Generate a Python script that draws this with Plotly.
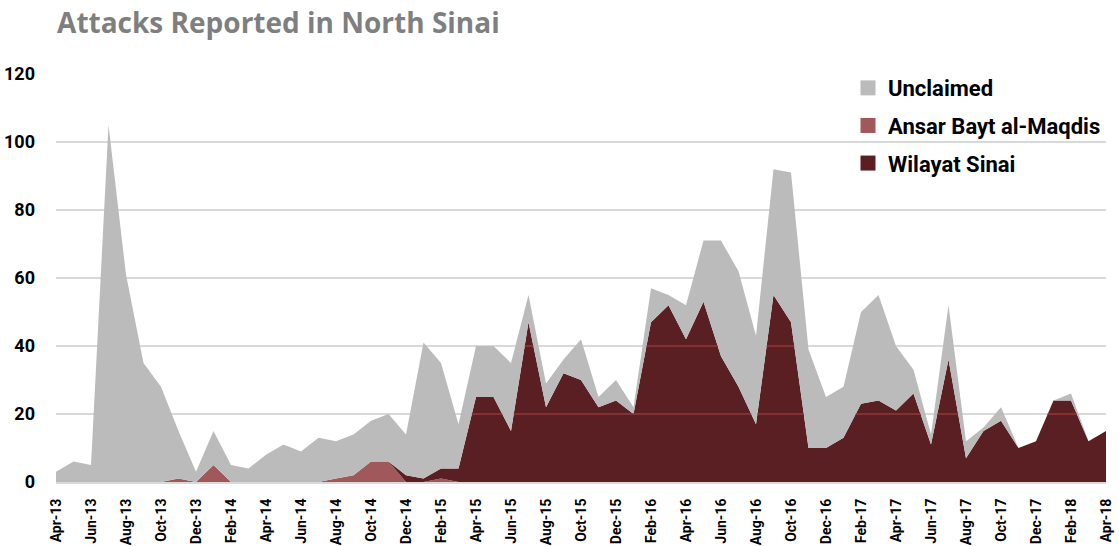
import numpy as np
import plotly.graph_objects as go

months = ["Apr-13","May-13","Jun-13","Jul-13","Aug-13","Sep-13","Oct-13","Nov-13","Dec-13",
          "Jan-14","Feb-14","Mar-14","Apr-14","May-14","Jun-14","Jul-14","Aug-14","Sep-14","Oct-14","Nov-14","Dec-14",
          "Jan-15","Feb-15","Mar-15","Apr-15","May-15","Jun-15","Jul-15","Aug-15","Sep-15","Oct-15","Nov-15","Dec-15",
          "Jan-16","Feb-16","Mar-16","Apr-16","May-16","Jun-16","Jul-16","Aug-16","Sep-16","Oct-16","Nov-16","Dec-16",
          "Jan-17","Feb-17","Mar-17","Apr-17","May-17","Jun-17","Jul-17","Aug-17","Sep-17","Oct-17","Nov-17","Dec-17",
          "Jan-18","Feb-18","Mar-18","Apr-18"]

ansar = [0,0,0,0,0,0,0,1,0,
         5,0,0,0,0,0,0,1,2,6,6,0,
         0,1,0,0,0,0,0,0,0,0,0,0,
         0,0,0,0,0,0,0,0,0,0,0,0,
         0,0,0,0,0,0,0,0,0,0,0,0,
         0,0,0,0]

wilayat = [0,0,0,0,0,0,0,0,0,
           0,0,0,0,0,0,0,0,0,0,0,2,
           1,3,4,25,25,15,47,22,32,30,22,24,
           20,47,52,42,53,37,28,17,55,47,10,10,
           13,23,24,21,26,11,36,7,15,18,10,12,
           24,24,12,15]

unclaimed = [3,6,5,105,61,35,28,14,3,
             10,5,4,8,11,9,13,11,12,12,14,12,
             40,31,13,15,15,20,8,7,4,12,3,6,
             2,10,3,10,18,34,34,26,37,44,29,15,
             15,27,31,19,7,3,16,5,1,4,0,0,
             0,2,0,0]

series_names = ["Unclaimed", "Ansar Bayt al-Maqdis", "Wilayat Sinai"]
colors = {"Unclaimed": "#bbbbbb", "Ansar Bayt al-Maqdis": "#a0585a", "Wilayat Sinai": "#5a1f22"}
grid_levels = [20, 40, 60, 80, 100, 120]

idx = list(range(len(months)))
tick_idx = idx[::2]
tick_text = [months[i] for i in tick_idx]

FONT = "Roboto, sans-serif"

fig = go.Figure()

# stacked areas (bottom: Ansar, then Wilayat, then Unclaimed)
for name, vals in [("Ansar Bayt al-Maqdis", ansar), ("Wilayat Sinai", wilayat), ("Unclaimed", unclaimed)]:
    fig.add_trace(go.Scatter(
        x=idx, y=vals, stackgroup="one", mode="none",
        fillcolor=colors[name], name=name, showlegend=False, hoverinfo="x+y+name"))

# gridlines visible across the dark area
cum = np.array(ansar) + np.array(wilayat)
xf = np.linspace(0, len(months) - 1, 12001)
cf = np.interp(xf, idx, cum)
for g in grid_levels:
    yv = np.where(cf >= g, float(g), np.nan)
    if np.all(np.isnan(yv)):
        continue
    fig.add_trace(go.Scatter(x=xf, y=yv, mode="lines", line=dict(color="#93393b", width=1.5),
                             showlegend=False, hoverinfo="skip", connectgaps=False))

# legend entries
for i, name in enumerate(series_names):
    fig.add_trace(go.Scatter(
        x=[None], y=[None], mode="markers", name=name, legendgroup=name,
        marker=dict(symbol="square", size=15, color=colors[name])))

fig.update_layout(
    width=1119, height=546,
    margin=dict(l=56, r=13, t=74, b=64, autoexpand=False),
    paper_bgcolor="white", plot_bgcolor="white",
    title=dict(text="<b>Attacks Reported in North Sinai</b>",
               font=dict(family="Open Sans", size=28, color="#7f7f7f"),
               x=0.051, xanchor="left", xref="container",
               y=0.958, yanchor="middle", yref="container"),
    legend=dict(x=1.0, xanchor="right", y=1.017, yanchor="top",
                bgcolor="rgba(0,0,0,0)", traceorder="grouped", tracegroupgap=6,
                font=dict(family=FONT, size=22, color="#000000", weight="bold")),
    showlegend=True,
)

fig.update_xaxes(
    range=[0, len(months) - 1], tickmode="array", tickvals=tick_idx, ticktext=tick_text,
    tickangle=-90, showgrid=False, zeroline=False, showline=True, linecolor="#d9d9d9", linewidth=2,
    ticks="", ticklabelstandoff=9,
    tickfont=dict(family=FONT, size=14, color="#000000", weight="bold"))

fig.update_yaxes(
    range=[0, 120], dtick=20, showgrid=True, gridcolor="#d9d9d9", gridwidth=1.5,
    zeroline=False, showline=False, ticks="", ticklabelstandoff=20,
    tickfont=dict(family=FONT, size=18, color="#000000", weight="bold"))

fig.write_html("out.html", config={"displayModeBar": False},
               post_script="document.body.style.margin='0px';")
